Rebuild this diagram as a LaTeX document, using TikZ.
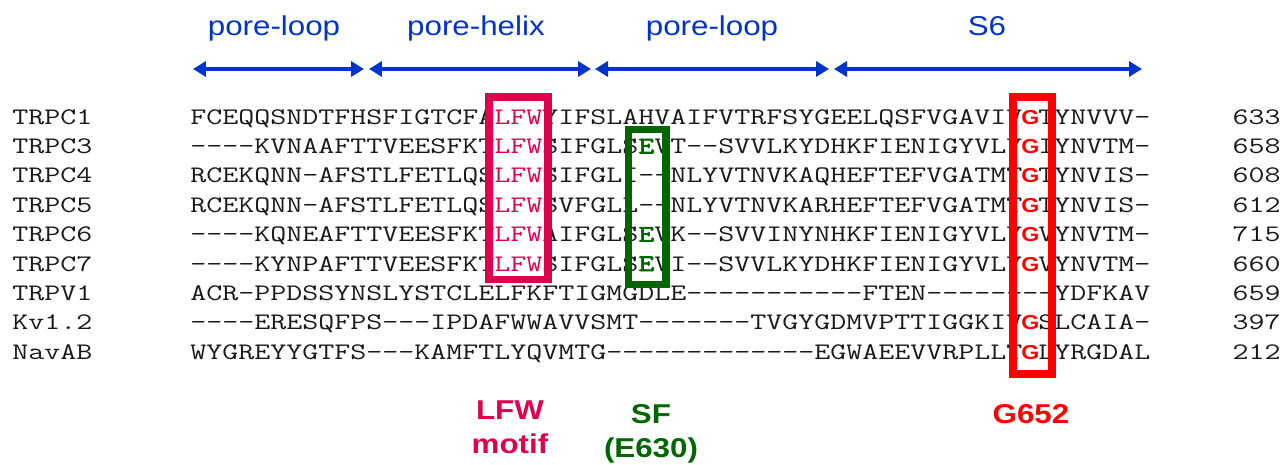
\documentclass[tikz,border=0pt]{standalone}
\usepackage{fontspec}
\setsansfont{Liberation Sans}[FakeStretch=1.15]
\setmonofont{Latin Modern Mono}[FakeStretch=1.31, AutoFakeBold=3]
\usetikzlibrary{arrows.meta}

\definecolor{regionblue}{RGB}{0,51,204}
\definecolor{motifpink}{RGB}{222,0,76}
\definecolor{filtergreen}{RGB}{0,102,0}
\definecolor{gatered}{RGB}{255,0,0}

\tikzstyle{region} = [line width=2.3pt, regionblue, {Triangle[length=0.26cm,width=0.3cm]}-{Triangle[length=0.26cm,width=0.3cm]}]
\tikzstyle{regionlabel} = [regionblue, inner sep=0, anchor=base, font=\sffamily\fontsize{15.5}{19}\selectfont]
\tikzstyle{seq} = [inner sep=0, anchor=base west, text=black!90, font=\ttfamily\fontsize{13.5}{16}\selectfont]
\tikzstyle{seqlen} = [seq, anchor=base east]
\tikzstyle{hlbox} = [line width=0.15cm]
\tikzstyle{sitelabel} = [inner sep=0, anchor=base, align=center, font=\sffamily\bfseries\fontsize{15.5}{19}\selectfont]

\newcommand{\lfw}{\textcolor{motifpink}{LFW}}
\newcommand{\sfe}{\textcolor{filtergreen}{\bfseries E}}
\newcommand{\gate}{\setbox0\hbox{X}\hbox to \wd0{\hss\textcolor{gatered}{\sffamily\bfseries\fontsize{11.5}{14}\selectfont G}\hss}}

\begin{document}
\begin{tikzpicture}[x=0.02cm, y=-0.02cm]
        % Bounding box
        \useasboundingbox (0,0) rectangle (1286,464);

        % Regions
        \coordinate (pl1a) at (193,69);  \coordinate (pl1b) at (364,69);
        \coordinate (pha)  at (369,69);  \coordinate (phb)  at (591,69);
        \coordinate (pl2a) at (595,69);  \coordinate (pl2b) at (829,69);
        \coordinate (s6a)  at (834,69);  \coordinate (s6b)  at (1142,69);
        \draw[region] (pl1a) -- (pl1b);
        \draw[region] (pha) -- (phb);
        \draw[region] (pl2a) -- (pl2b);
        \draw[region] (s6a) -- (s6b);
        \node[regionlabel] (pl1) at (274,35) {pore-loop};
        \node[regionlabel] (ph)  at (476,35) {pore-helix};
        \node[regionlabel] (pl2) at (712,35) {pore-loop};
        \node[regionlabel] (s6)  at (987,35) {S6};

        % Alignment
        \node[seq] (trpc1) at (12,124)   {TRPC1};
        \node[seq] (trpc1seq) at (190,124)   {FCEQQSNDTFHSFIGTCFA\lfw YIFSLAHVAIFVTRFSYGEELQSFVGAVIV\gate TYNVVV-};
        \node[seqlen] (trpc1len) at (1281,124)   {633};
        \node[seq] (trpc3) at (12,153.4) {TRPC3};
        \node[seq] (trpc3seq) at (190,153.4) {----KVNAAFTTVEESFKT\lfw SIFGLS\sfe VT--SVVLKYDHKFIENIGYVLY\gate IYNVTM-};
        \node[seqlen] (trpc3len) at (1281,153.4) {658};
        \node[seq] (trpc4) at (12,182.8) {TRPC4};
        \node[seq] (trpc4seq) at (190,182.8) {RCEKQNN-AFSTLFETLQS\lfw SIFGLI--NLYVTNVKAQHEFTEFVGATMT\gate TYNVIS-};
        \node[seqlen] (trpc4len) at (1281,182.8) {608};
        \node[seq] (trpc5) at (12,212.2) {TRPC5};
        \node[seq] (trpc5seq) at (190,212.2) {RCEKQNN-AFSTLFETLQS\lfw SVFGLL--NLYVTNVKARHEFTEFVGATMT\gate TYNVIS-};
        \node[seqlen] (trpc5len) at (1281,212.2) {612};
        \node[seq] (trpc6) at (12,241.6) {TRPC6};
        \node[seq] (trpc6seq) at (190,241.6) {----KQNEAFTTVEESFKT\lfw AIFGLS\sfe VK--SVVINYNHKFIENIGYVLY\gate VYNVTM-};
        \node[seqlen] (trpc6len) at (1281,241.6) {715};
        \node[seq] (trpc7) at (12,271)   {TRPC7};
        \node[seq] (trpc7seq) at (190,271)   {----KYNPAFTTVEESFKT\lfw SIFGLS\sfe VI--SVVLKYDHKFIENIGYVLY\gate VYNVTM-};
        \node[seqlen] (trpc7len) at (1281,271)   {660};
        \node[seq] (trpv1) at (12,300.4) {TRPV1};
        \node[seq] (trpv1seq) at (190,300.4) {ACR-PPDSSYNSLYSTCLELFKFTIGMGDLE-----------FTEN--------YDFKAV};
        \node[seqlen] (trpv1len) at (1281,300.4) {659};
        \node[seq] (kv12) at (12,329.8) {Kv1.2};
        \node[seq] (kv12seq) at (190,329.8) {----ERESQFPS---IPDAFWWAVVSMT-------TVGYGDMVPTTIGGKIV\gate SLCAIA-};
        \node[seqlen] (kv12len) at (1281,329.8) {397};
        \node[seq] (navab) at (12,359.2) {NavAB};
        \node[seq] (navabseq) at (190,359.2) {WYGREYYGTFS---KAMFTLYQVMTG-------------EGWAEEVVRPLLT\gate LYRGDAL};
        \node[seqlen] (navablen) at (1281,359.2) {212};

        % Highlight boxes
        \draw[hlbox, motifpink]   (489,97) rectangle (548,279.5);
        \draw[hlbox, filtergreen] (628.3,129.5) rectangle (666,284.5);
        \draw[hlbox, gatered]     (1013,97) rectangle (1052,374);

        % Site labels
        \node[sitelabel, motifpink]   (lfwlbl)  at (510,453) {LFW\\motif};
        \node[sitelabel, filtergreen] (sflbl)   at (651,457) {SF\\(E630)};
        \node[sitelabel, gatered]     (gatelbl) at (1031,423) {G652};

    \end{tikzpicture}
\end{document}
